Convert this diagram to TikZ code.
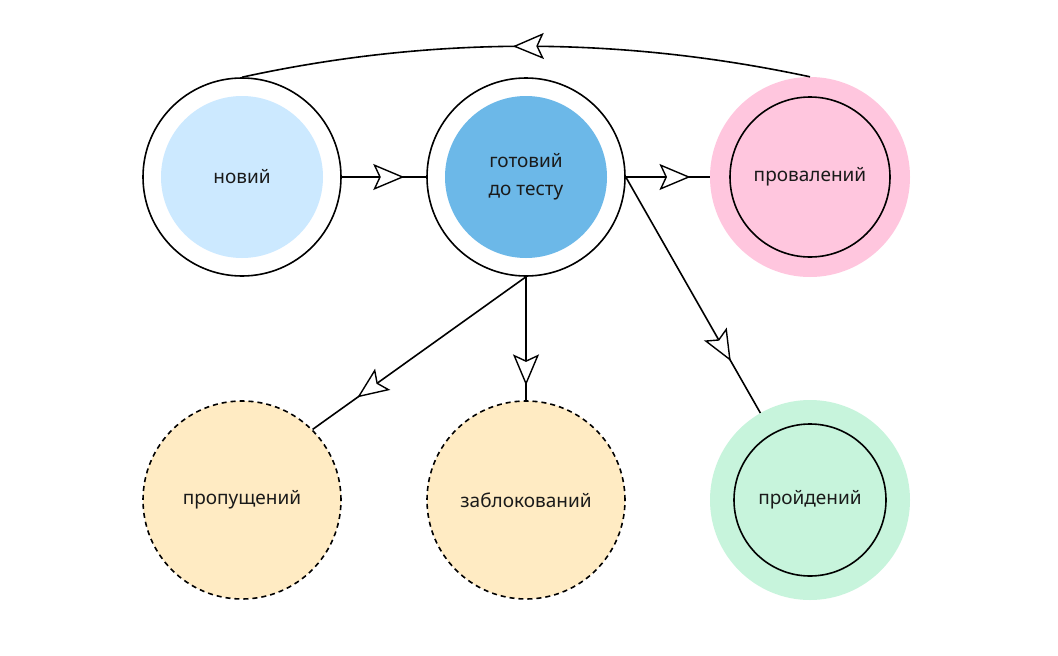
\documentclass[tikz,border=0pt]{standalone}
\usepackage{fontspec}
\setmainfont{Noto Sans}
\usetikzlibrary{arrows.meta,decorations.markings}
\definecolor{cnew}{HTML}{CCE9FF}
\definecolor{cready}{HTML}{6CB8E8}
\definecolor{cfail}{HTML}{FFC6DE}
\definecolor{cskip}{HTML}{FFEBC3}
\definecolor{cpass}{HTML}{C7F4DC}
\definecolor{ctext}{HTML}{1A1A1A}
\tikzset{
  ln/.style={line width=1.6pt, draw=black},
  lbl/.style={font=\fontsize{19}{28}\selectfont, text=ctext},
  ring/.style={circle, ln, minimum size=198pt, inner sep=0pt},
  disc/.style={circle, minimum size=#1, inner sep=0pt, lbl, align=center},
  halo/.style={circle, minimum size=200pt, inner sep=0pt},
  dashring/.style={circle, ln, dash pattern=on 5pt off 4pt, minimum size=198pt, inner sep=0pt, lbl},
  midarrow/.style={postaction={decorate}, decoration={markings, mark=at position #1 with {\arrow[line width=1.4pt]{Stealth[fill=white,length=31pt,width=26pt,inset=6pt]}}}},
}
\begin{document}
\begin{tikzpicture}[x=1pt,y=-1pt]
\useasboundingbox (0,0) rectangle (1058,656);
\fill[white] (0,0) rectangle (1058,656);
% nodes
\node[ring] (new) at (242,177) {};
\node[disc=162pt, fill=cnew] (newin) at (new.center) {новий};
\node[ring] (ready) at (526,177) {};
\node[disc=162pt, fill=cready] (readyin) at (ready.center) {готовий\\до тесту};
\node[halo, fill=cfail] (fail) at (810,177) {};
\node[disc=160pt, ln] (failin) at (fail.center) {провалений};
\node[dashring, fill=cskip] (skip) at (242,500) {пропущений};
\node[dashring, fill=cskip] (blocked) at (526,500) {заблокований};
\node[halo, fill=cpass] (pass) at (810,500) {};
\node[disc=152pt, ln] (passin) at (pass.center) {пройдений};
% edges
\draw[ln, midarrow=0.74] (new) -- (ready);
\draw[ln, midarrow=0.77] (ready) -- (fail);
\draw[ln, midarrow=0.523] (fail.north) .. controls (619,36) and (431,36) .. (new.north);
\draw[ln, midarrow=0.79] (ready.south) -- (skip.north east);
\draw[ln, midarrow=0.88] (ready.south) -- (blocked);
\draw[ln, midarrow=0.78] (ready.east) -- (pass);
\end{tikzpicture}
\end{document}
